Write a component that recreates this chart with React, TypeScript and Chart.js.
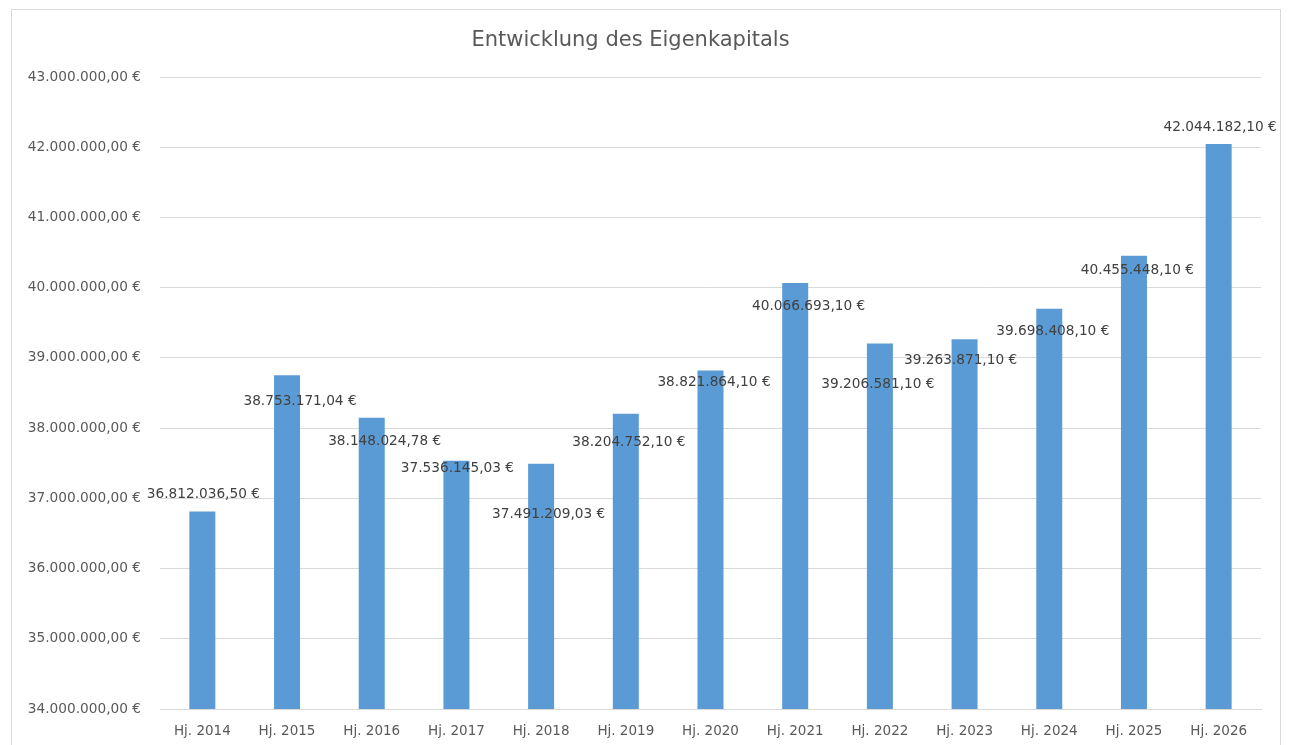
import { useEffect, useRef } from "react";
import { Chart, registerables } from "chart.js";

Chart.register(...registerables);

const categories = [
  "Hj. 2014", "Hj. 2015", "Hj. 2016", "Hj. 2017", "Hj. 2018", "Hj. 2019", "Hj. 2020",
  "Hj. 2021", "Hj. 2022", "Hj. 2023", "Hj. 2024", "Hj. 2025", "Hj. 2026",
];

const equity = [
  36812036.5, 38753171.04, 38148024.78, 37536145.03, 37491209.03, 38204752.1, 38821864.1,
  40066693.1, 39206581.1, 39263871.1, 39698408.1, 40455448.1, 42044182.1,
];

const yMin = 34000000;
const yMax = 43000000;
const yStep = 1000000;

const chartTitle = "Entwicklung des Eigenkapitals";

// label placement in px, relative to the centre of each bar's top edge
const labelOffsets: [number, number][] = [
  [1, -17], [13, 26], [13, 24], [1, 8], [7.5, 51], [3, 28.5], [3.5, 12],
  [13.5, 23], [-2, 41], [-4, 21], [3.5, 23], [3.5, 15], [1.5, -17],
];

function formatEuro(v: number): string {
  const fixed = Math.abs(v).toFixed(2);
  const [intPart, dec] = fixed.split(".");
  const grouped = intPart.replace(/\B(?=(\d{3})+(?!\d))/g, ".");
  return (v < 0 ? "-" : "") + grouped + "," + dec + " €";
}

const FONT = "'DejaVu Sans', 'Open Sans', sans-serif";

const framePlugin = {
  id: "frame",
  beforeDraw(chart: any) {
    const ctx = chart.ctx;
    ctx.save();
    ctx.fillStyle = "#ffffff";
    ctx.fillRect(0, 0, chart.width, chart.height);
    ctx.strokeStyle = "#D9D9D9";
    ctx.lineWidth = 1;
    ctx.strokeRect(11.5, 9.5, 1269, 800);
    ctx.restore();
  },
};

const valueLabelPlugin = {
  id: "valueLabels",
  afterDatasetsDraw(chart: any) {
    const ctx = chart.ctx;
    const meta = chart.getDatasetMeta(0);
    const data = chart.data.datasets[0].data as number[];
    ctx.save();
    ctx.font = `13.7px ${FONT}`;
    ctx.fillStyle = "#404040";
    ctx.textAlign = "center";
    ctx.textBaseline = "middle";
    meta.data.forEach((el: any, i: number) => {
      const [dx, dy] = labelOffsets[i] || [0, -17];
      ctx.fillText(formatEuro(data[i]), el.x + dx, el.y + dy);
    });
    ctx.restore();
  },
};

export default function App() {
  const canvasRef = useRef<HTMLCanvasElement | null>(null);

  useEffect(() => {
    document.body.style.margin = "0";
    const canvas = canvasRef.current;
    if (!canvas) return;
    const chart = new Chart(canvas, {
      type: "bar",
      data: {
        labels: categories,
        datasets: [
          {
            label: "Eigenkapital",
            data: equity,
            backgroundColor: "#5B9BD5",
            borderWidth: 0,
            barPercentage: 0.307,
            categoryPercentage: 1,
          },
        ],
      },
      options: {
        responsive: false,
        animation: false,
        layout: { padding: { left: 0, right: 29, top: 0, bottom: 0 } },
        plugins: {
          legend: { display: false },
          tooltip: { enabled: false },
          title: {
            display: true,
            text: chartTitle,
            color: "#595959",
            font: { family: FONT, size: 21, weight: "normal" },
            padding: { top: 28.1, bottom: 23.7 },
          },
        },
        scales: {
          x: {
            grid: { display: false, drawTicks: false },
            border: { display: true, color: "#D9D9D9", width: 1 },
            ticks: {
              color: "#595959",
              font: { family: FONT, size: 13.5 },
              padding: 14.5,
              maxRotation: 0,
              autoSkip: false,
            },
            afterFit(scale: any) {
              scale.height = 36;
            },
          },
          y: {
            min: yMin,
            max: yMax,
            grid: { color: "#D9D9D9", lineWidth: 1, drawTicks: false },
            border: { display: false },
            ticks: {
              stepSize: yStep,
              color: "#595959",
              font: { family: FONT, size: 13.7 },
              padding: 19,
              callback: (v: any) => formatEuro(Number(v)),
            },
            afterFit(scale: any) {
              scale.width = 160;
            },
          },
        },
      },
      plugins: [framePlugin, valueLabelPlugin],
    });
    return () => chart.destroy();
  }, []);

  return (
    <div style={{ width: 1290, height: 745 }}>
      <canvas ref={canvasRef} width={1290} height={745} style={{ display: "block" }} />
    </div>
  );
}
